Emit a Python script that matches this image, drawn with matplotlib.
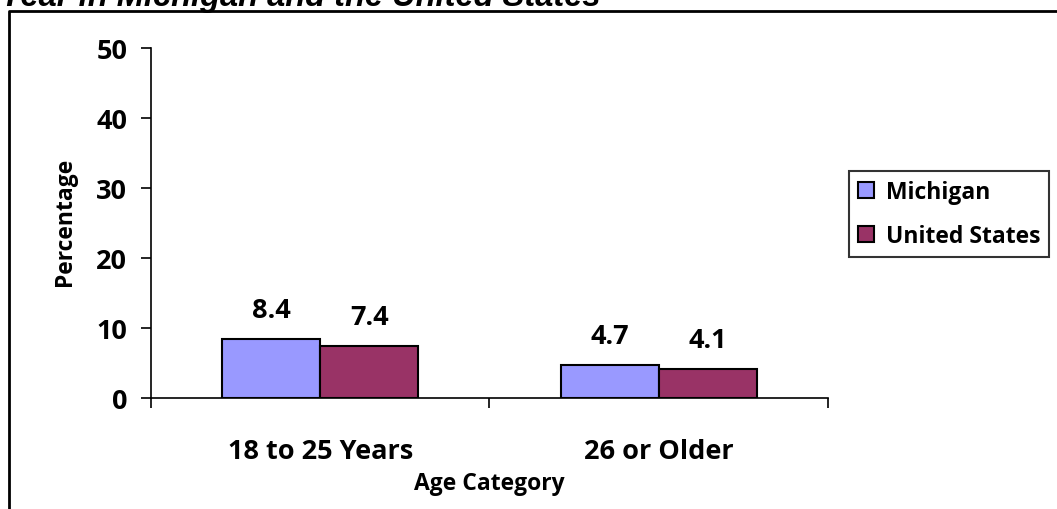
import matplotlib
matplotlib.use("Agg")
import matplotlib.pyplot as plt
from matplotlib.lines import Line2D
import numpy as np

# age groups and percentages
categories = ["18 to 25 Years", "26 or Older"]
michigan = [8.4, 4.7]
united_states = [7.4, 4.1]
series_names = ["Michigan", "United States"]
yticks = [0, 10, 20, 30, 40, 50]

title = "Year in Michigan and the United States"

plt.rcParams['font.family'] = ['Open Sans', 'DejaVu Sans']
plt.rcParams['font.weight'] = 'bold'

W, H = 1057, 510
fig = plt.figure(figsize=(W / 100, H / 100), dpi=100)
ax = fig.add_axes([151 / W, 1 - 399 / H, (828 - 151) / W, (399 - 49) / H])

centers = np.arange(len(categories)) + 0.5
width = 0.29
bars_mi = ax.bar(centers - width / 2, michigan, width, color="#9999ff",
                 edgecolor="black", linewidth=1.5, label=series_names[0])
bars_us = ax.bar(centers + width / 2, united_states, width, color="#993366",
                 edgecolor="black", linewidth=1.5, label=series_names[1])

# value labels above each bar
for bars, vals in ((bars_mi, michigan), (bars_us, united_states)):
    for b, v in zip(bars, vals):
        ax.text(b.get_x() + b.get_width() / 2, v + 4.2, "%.1f" % v,
                ha="center", va="center", fontsize=19.5, fontweight="bold")

ax.set_xlim(0, len(categories))
ax.set_ylim(0, 50)
ax.set_yticks(yticks)
ax.set_xticks(np.arange(len(categories) + 1))
ax.set_xticklabels([])
ax.set_xticks(centers, minor=True)
ax.set_xticklabels(categories, minor=True, fontsize=19.5, fontweight="bold")
ax.tick_params(axis="x", which="major", direction="out", length=7, width=1.2)
ax.tick_params(axis="x", which="minor", length=0, pad=29)
ax.tick_params(axis="y", direction="out", length=7, width=1.2, pad=10, labelsize=19.5)
for lab in ax.get_yticklabels():
    lab.set_fontweight("bold")

for side in ("top", "right"):
    ax.spines[side].set_visible(False)
for side in ("left", "bottom"):
    ax.spines[side].set_linewidth(1.2)

ax.set_ylabel("Percentage", fontsize=16.5, fontweight="bold", va="center")
ax.yaxis.set_label_coords((65 - 151) / 677, 0.506)
ax.set_xlabel("Age Category", fontsize=16.5, fontweight="bold", va="center")
ax.xaxis.set_label_coords(0.5, (399 - 484) / 350)

leg = fig.legend(loc="upper left", bbox_to_anchor=(849 / W, 1 - 172 / H),
                 borderaxespad=0, fancybox=False, edgecolor="black",
                 fontsize=16.5, handlelength=0.7, handleheight=0.7,
                 handletextpad=0.5, labelspacing=0.85, borderpad=0.4)
leg.get_frame().set_linewidth(1.5)
for t in leg.get_texts():
    t.set_fontweight("bold")

# frame around the chart area, open on the right and bottom
fig.add_artist(Line2D([9 / W, 9 / W, 1.0], [0.0, 1 - 12 / H, 1 - 12 / H],
                      transform=fig.transFigure, color="black", linewidth=2))

fig.text(0, 1 - 6 / H, title, ha="left", va="baseline", fontsize=23.5,
         fontweight="bold", fontstyle="italic", family="Liberation Sans")

fig.savefig("out.png", dpi=100)
